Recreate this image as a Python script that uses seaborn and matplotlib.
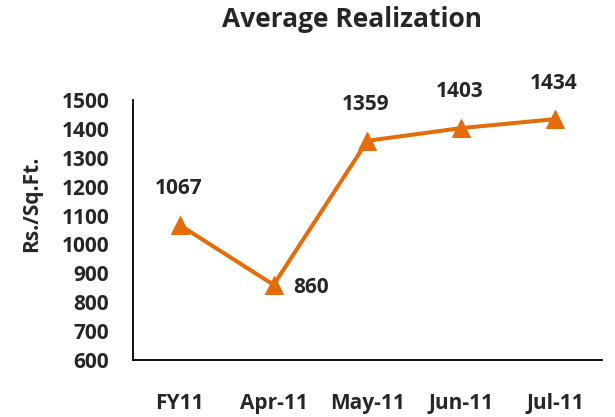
import matplotlib
matplotlib.use("Agg")
import matplotlib.pyplot as plt
import seaborn as sns
import pandas as pd

periods = ["FY11", "Apr-11", "May-11", "Jun-11", "Jul-11"]
realization = [1067, 860, 1359, 1403, 1434]

sns.set_style("white")
plt.rcParams['font.family'] = ['Open Sans', 'DejaVu Sans']

df = pd.DataFrame({"period": periods, "value": realization})
df["pos"] = range(len(df))

fig = plt.figure(figsize=(6.15, 4.17), dpi=100)
ax = fig.add_axes([0.216, 0.137, 0.763, 0.623])

sns.lineplot(data=df, x="pos", y="value", color="#E46C0A", linewidth=2.9,
             marker="^", markersize=13, markeredgecolor="#E46C0A", ax=ax)

# labels: 860 sits to the right of its point, the rest above
for i, v in enumerate(realization):
    if v == 860:
        ax.annotate(str(v), (i, v), xytext=(27, -2), textcoords="offset points",
                    ha="center", va="center", fontsize=15, fontweight="bold")
    else:
        ax.annotate(str(v), (i, v), xytext=(-1, 26), textcoords="offset points",
                    ha="center", va="center", fontsize=15, fontweight="bold")

ax.set_xlim(-0.5, len(periods) - 0.5)
ax.set_ylim(600, 1500)
ax.set_yticks(range(600, 1501, 100))
ax.set_xticks(range(len(periods)))
ax.set_xticklabels(periods)
ax.set_xticks([i - 0.5 for i in range(len(periods) + 1)], minor=True)
ax.tick_params(axis="x", which="major", length=0, pad=24)
ax.tick_params(axis="x", which="minor", length=6, width=1.2, direction="out")
ax.tick_params(axis="y", length=6, width=1.2, direction="out", pad=11)
for lab in ax.get_xticklabels() + ax.get_yticklabels():
    lab.set_fontweight("bold")
    lab.set_fontsize(15)

sns.despine(ax=ax)
for s in ["left", "bottom"]:
    ax.spines[s].set_linewidth(1.3)
    ax.spines[s].set_color("black")

ax.set_xlabel("")
ax.set_ylabel("Rs./Sq.Ft.", fontsize=15, fontweight="bold", labelpad=14, y=0.6)
fig.suptitle("Average Realization", x=0.572, y=0.985, fontsize=19, fontweight="bold")

fig.savefig("out.png", dpi=100)
